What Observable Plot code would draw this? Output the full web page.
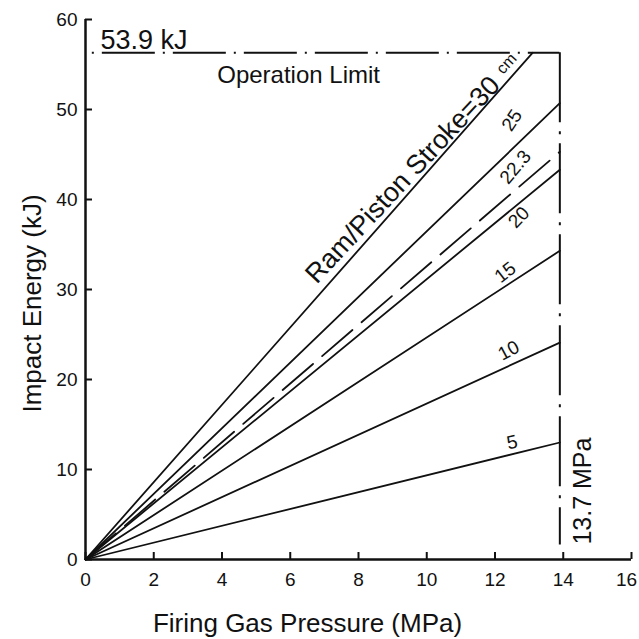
<!DOCTYPE html>
<html>
<head>
<meta charset="utf-8">
<script src="https://cdn.jsdelivr.net/npm/d3@7"></script>
<script src="https://cdn.jsdelivr.net/npm/@observablehq/plot@0.6"></script>
<style>
  html, body { margin: 0; padding: 0; background: #fff; }
  #chart svg { font-family: "Liberation Sans", Arial, sans-serif; }
</style>
</head>
<body>
<div id="chart"></div>
<script>
// ---- data ----
const strokes = ["30", "25", "22.3", "20", "15", "10", "5"];   // ram/piston stroke (cm)
const endPressure = [13.1, 13.9, 13.9, 13.9, 13.9, 13.9, 13.9]; // MPa at line end
const endEnergy = [56.3, 50.7, 45.3, 43.3, 34.3, 24.1, 13.0];   // kJ at line end
const dashedStroke = "22.3";

const limitEnergy = 56.3;     // drawn "53.9 kJ" operation limit
const limitPressure = 13.9;   // drawn "13.7 MPa" limit
const xTicks = [0, 2, 4, 6, 8, 10, 12, 14, 16];
const yTicks = [0, 10, 20, 30, 40, 50, 60];

const curveLabels = ["25", "22.3", "20", "15", "10", "5"];
const curveLabelX = [12.5, 12.6, 12.7, 12.3, 12.4, 12.5];
const curveLabelY = [48.8, 43.6, 38.0, 31.9, 23.2, 13.0];
const curveLabelAngle = [-56, -50, -46, -38, -28, -12];

// ---- build tables ----
const rows = [];
strokes.forEach((s, i) => {
  rows.push({stroke: s, p: 0, e: 0});
  rows.push({stroke: s, p: endPressure[i], e: endEnergy[i]});
});
const labels = curveLabels.map((t, i) => ({t, x: curveLabelX[i], y: curveLabelY[i], a: curveLabelAngle[i]}));

const font = "Liberation Sans, Arial, sans-serif";
const W = 639, H = 639, mL = 85, mR = 8, mT = 19, mB = 80;
const frameW = W - mL - mR, frameH = H - mT - mB;
const tickLen = 7;
const lastTick = xTicks[xTicks.length - 1];

const chart = Plot.plot({
  width: W,
  height: H,
  marginLeft: mL,
  marginRight: mR,
  marginTop: mT,
  marginBottom: mB,
  style: {fontFamily: font, color: "#111", background: "#fff"},
  x: {domain: [0, 16]},
  y: {domain: [0, 60]},
  marks: [
    // axes: labels outside, ticks pointing inward
    Plot.axisX({ticks: xTicks.filter(t => t !== lastTick), tickSize: 0, tickPadding: 13, fontSize: 19, label: null}),
    Plot.axisX({ticks: [lastTick], tickSize: 0, tickPadding: 13, fontSize: 19, label: null, dx: -5}),
    Plot.axisY({ticks: yTicks, tickSize: 0, tickPadding: 8, fontSize: 19, label: null}),
    Plot.tickX(xTicks, {x: d => d, insetTop: frameH - tickLen, stroke: "#111", strokeWidth: 2}),
    Plot.tickY(yTicks, {y: d => d, insetRight: frameW - tickLen, stroke: "#111", strokeWidth: 2}),
    Plot.ruleY([0], {stroke: "#111", strokeWidth: 2.5}),
    Plot.ruleX([0], {stroke: "#111", strokeWidth: 2.5}),
    // operation limits
    Plot.ruleY([limitEnergy], {x1: 0.2, x2: limitPressure, stroke: "#111", strokeWidth: 2, strokeDasharray: "2,8,53,8"}),
    Plot.ruleX([limitPressure], {y1: limitEnergy, y2: 1.6, stroke: "#111", strokeWidth: 2, strokeDasharray: "70,9,3,9"}),
    // stroke lines
    Plot.line(rows.filter(d => d.stroke !== dashedStroke), {x: "p", y: "e", z: "stroke", stroke: "#111", strokeWidth: 1.8}),
    Plot.line(rows.filter(d => d.stroke === dashedStroke), {x: "p", y: "e", z: "stroke", stroke: "#111", strokeWidth: 1.8, strokeDasharray: "40,12"}),
    // curve labels
    Plot.text(labels, {x: "x", y: "y", text: "t", rotate: "a", fontSize: 19, fill: "#111"}),
    Plot.text(["Ram/Piston Stroke=30"], {x: [9.3], y: [42.2], text: d => d, rotate: -47, fontSize: 27, fill: "#111"}),
    Plot.text(["cm"], {x: [12.34], y: [55.1], text: d => d, rotate: -47, fontSize: 16, fill: "#111"}),
    Plot.text(["53.9 kJ"], {x: [0.44], y: [57.7], text: d => d, textAnchor: "start", fontSize: 27, fill: "#111"}),
    Plot.text(["Operation Limit"], {x: [3.86], y: [53.8], text: d => d, textAnchor: "start", fontSize: 24, fill: "#111"}),
    Plot.text(["13.7 MPa"], {x: [14.59], y: [7.6], text: d => d, rotate: -90, fontSize: 25, fill: "#111"}),
    // axis titles
    Plot.text(["Firing Gas Pressure (MPa)"], {frameAnchor: "bottom", textAnchor: "middle", lineAnchor: "middle", dx: -51, dy: 64, text: d => d, fontSize: 26, fill: "#111"}),
    Plot.text(["Impact Energy (kJ)"], {frameAnchor: "left", textAnchor: "middle", lineAnchor: "middle", dx: -53, dy: 14, text: d => d, rotate: -90, fontSize: 26, fill: "#111"})
  ]
});
document.getElementById("chart").appendChild(chart);
</script>
</body>
</html>
